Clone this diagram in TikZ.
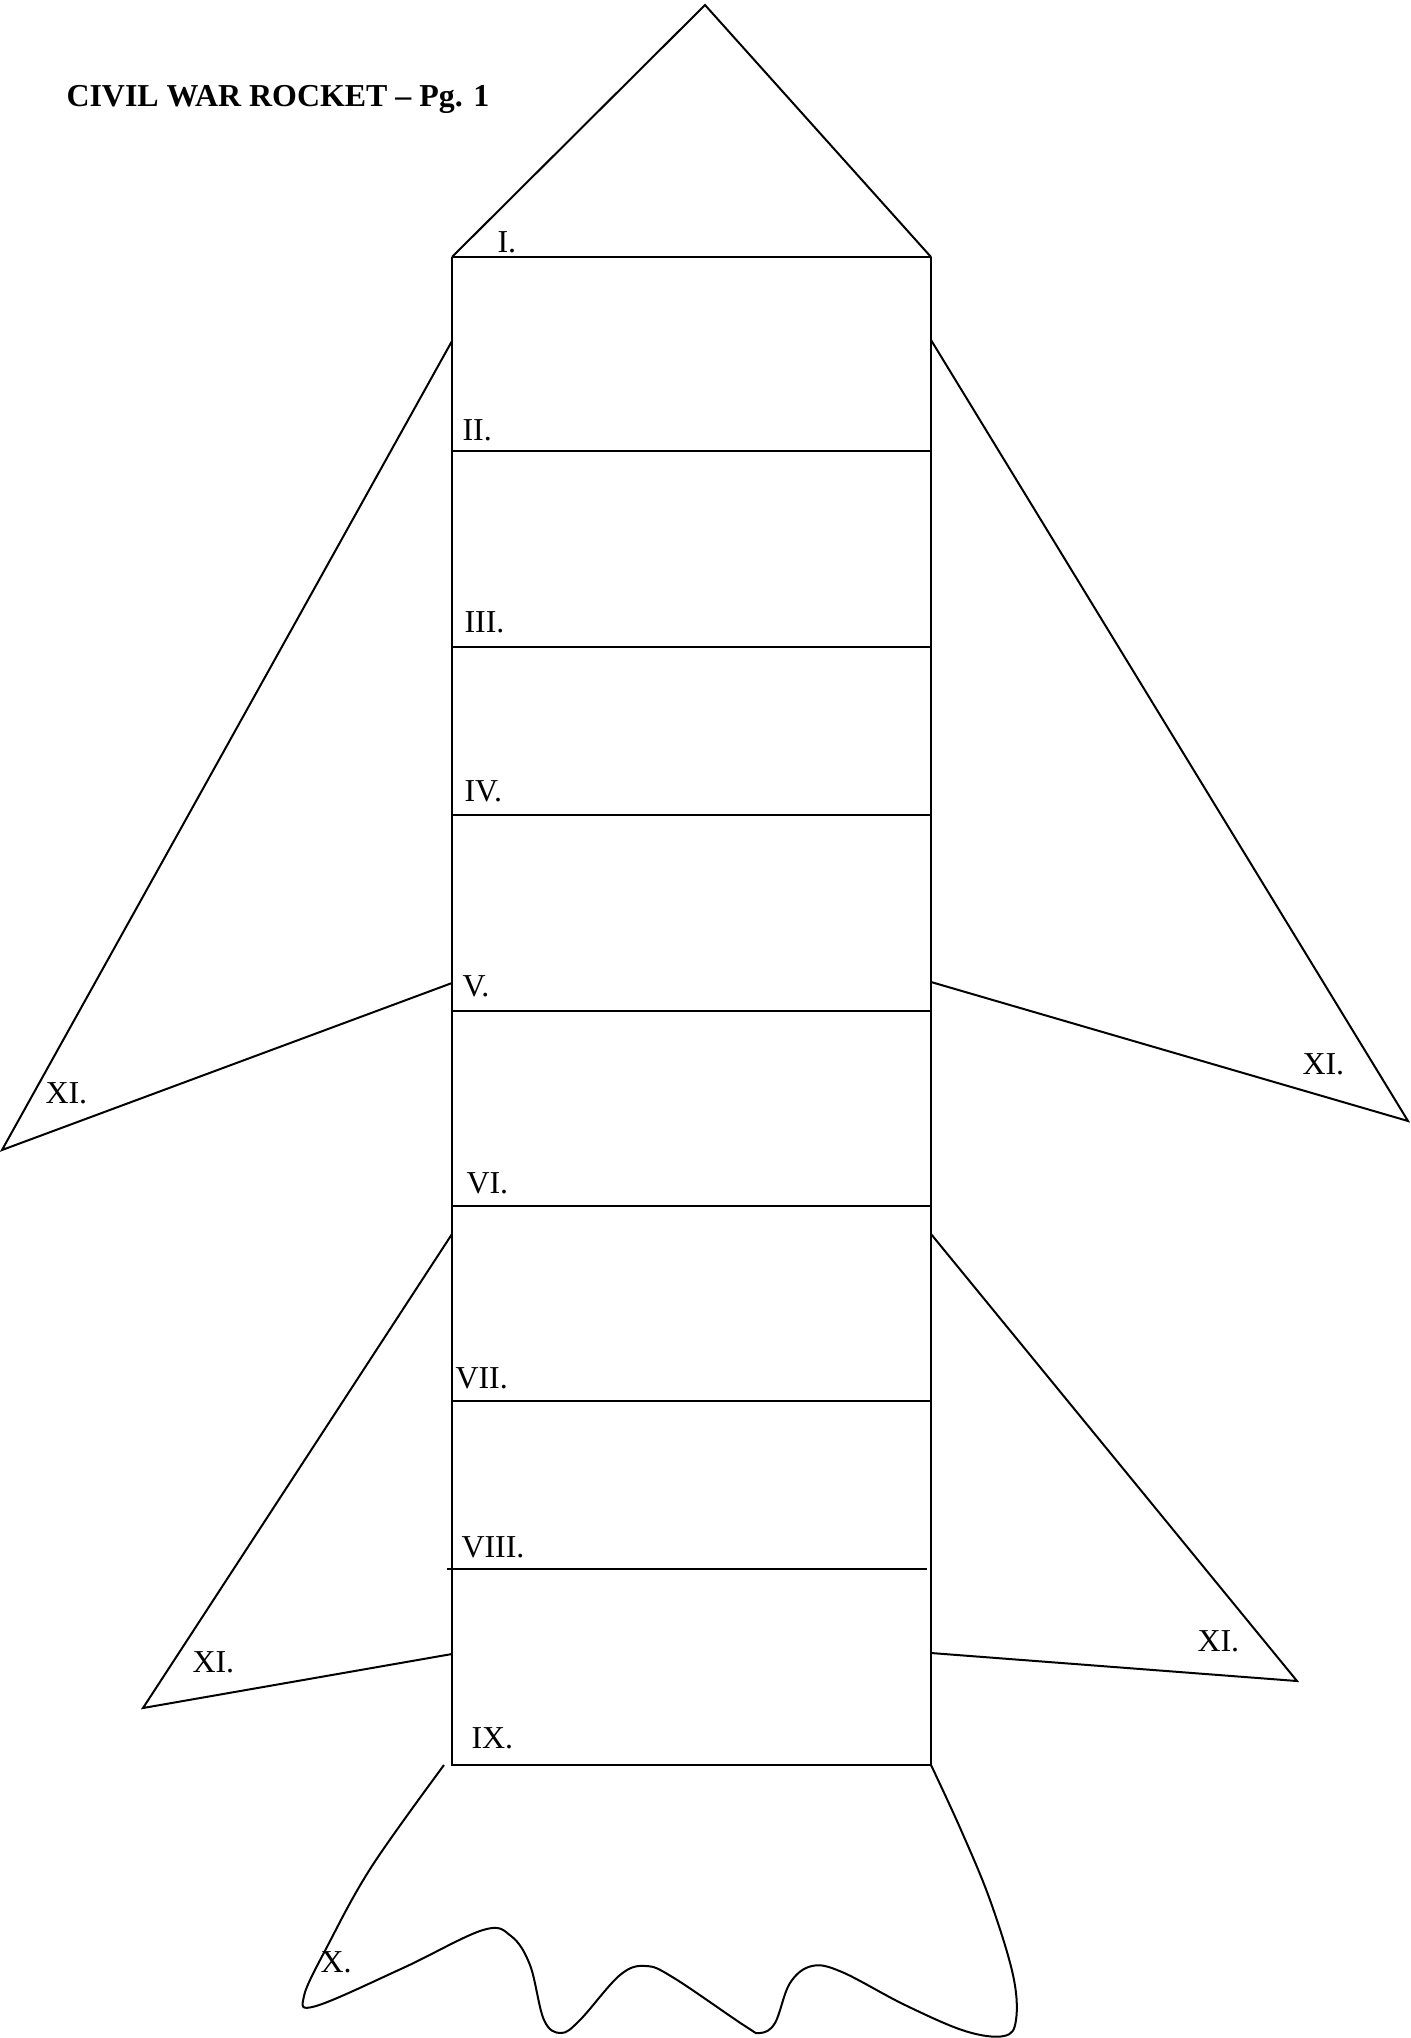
\documentclass[tikz,border=0pt]{standalone}
\usepackage{fontspec}
\setmainfont{Liberation Serif}
\usepackage{tikz}
\usetikzlibrary{calc}

\begin{document}
\begin{tikzpicture}[x=0.376pt,y=-0.376pt,line join=miter,edge/.style={line width=0.75pt},lbl/.style={anchor=base west,inner sep=0pt,font=\fontsize{12}{14}\selectfont}]
\useasboundingbox (0,0) rectangle (1410,2038);
\node[lbl,font=\fontsize{12}{14}\selectfont\bfseries](title) at (66,106){CIVIL WAR ROCKET -- Pg. 1};
% body and nose
\coordinate (tl) at (452,257); \coordinate (tr) at (931,257); \coordinate (bl) at (452,1765); \coordinate (br) at (931,1765);
\coordinate (apex) at (705,5);
\draw[edge] (tl) -- (apex) -- (tr); \draw[edge,line width=1pt] (tl) -- (tr);
\draw[edge] (tl) -- (bl) -- (br) -- (tr);
\foreach \y in {451,647,815,1011,1206,1401} \draw[edge] (452,\y) -- (931,\y);
\draw[edge] (447,1569) -- (927,1569);
% fins
\draw[edge] (452,341) -- (2,1150) -- (452,983);
\draw[edge] (931,340) -- (1408,1121) -- (931,982);
\draw[edge] (452,1234) -- (143,1708) -- (452,1654);
\draw[edge] (931,1234) -- (1297,1681) -- (931,1653);
% flame
\draw[edge] plot[smooth,tension=0.6] coordinates {(444,1765) (372,1866) (328,1945) (304,1996) (316,2006) (403,1968) (483,1930) (511,1936) (530,1965) (544,2020) (561,2033) (580,2020) (620,1975) (646,1966) (674,1978) (745,2026) (760,2033) (775,2023) (790,1983) (812,1966) (842,1972) (905,2005) (965,2031) (1004,2036) (1016,2020) (1013,1975) (990,1900) (961,1830) (br)};
% section labels
\node[lbl](s1) at (497,252){I.}; \node[lbl](s2) at (462,440){II.}; \node[lbl](s3) at (464,632){III.};
\node[lbl](s4) at (464,801){IV.}; \node[lbl](s5) at (462,996){V.}; \node[lbl](s6) at (466,1193){VI.};
\node[lbl](s7) at (455,1388){VII.}; \node[lbl](s8) at (461,1557){VIII.}; \node[lbl](s9) at (471,1748){IX.};
\node[lbl](s10) at (320,1972){X.};
\node[lbl](f1) at (45,1103){XI.}; \node[lbl](f2) at (1302,1074){XI.};
\node[lbl](f3) at (192,1672){XI.}; \node[lbl](f4) at (1197,1651){XI.};
\end{tikzpicture}
\end{document}
